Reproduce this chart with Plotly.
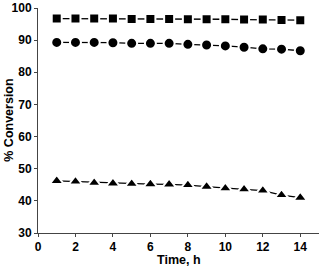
import plotly.graph_objects as go

time_h = [1, 2, 3, 4, 5, 6, 7, 8, 9, 10, 11, 12, 13, 14]
squares = [96.7, 96.7, 96.7, 96.7, 96.6, 96.6, 96.6, 96.5, 96.5, 96.5, 96.4, 96.4, 96.3, 96.2]
circles = [89.3, 89.3, 89.3, 89.2, 89.0, 89.0, 89.0, 88.7, 88.5, 88.2, 87.8, 87.3, 87.2, 86.7]
triangles = [46.2, 46.0, 45.6, 45.4, 45.3, 45.2, 45.1, 44.9, 44.4, 43.9, 43.6, 43.2, 41.8, 41.0]

x_ticks = [0, 2, 4, 6, 8, 10, 12, 14]
y_ticks = [30, 40, 50, 60, 70, 80, 90, 100]

FAM = "Liberation Sans, Arial, sans-serif"

fig = go.Figure()
for vals, sym, size in [(squares, "square", 10), (circles, "circle", 11), (triangles, "triangle-up", 12)]:
    fig.add_trace(go.Scatter(
        x=time_h, y=vals, mode="lines+markers",
        line=dict(color="black", width=1.3),
        marker=dict(symbol=sym, size=size, color="black", line=dict(color="white", width=2)),
        showlegend=False, cliponaxis=False,
    ))

fig.update_layout(
    width=321, height=266,
    margin=dict(l=38, r=2, t=8, b=33, autoexpand=False),
    paper_bgcolor="white", plot_bgcolor="white",
    font=dict(family=FAM, size=12, color="black"),
    annotations=[
        dict(text="<b>Time, h</b>", xref="paper", yref="paper", x=0.5, y=-0.121,
             xanchor="center", yanchor="middle", showarrow=False, borderpad=0,
             font=dict(family=FAM, size=12.5, color="black")),
        dict(text="<b>% Conversion</b>", xref="paper", yref="paper", x=-0.106, y=0.5,
             xanchor="center", yanchor="middle", showarrow=False, textangle=-90, borderpad=0,
             font=dict(family=FAM, size=12.5, color="black")),
    ],
)
tickfont = dict(family=FAM, size=12, color="black", weight="bold")
fig.update_xaxes(
    range=[0, 15], tickvals=x_ticks, ticks="outside", ticklen=3, tickwidth=1,
    tickcolor="#444", showline=True, linecolor="#444", linewidth=1,
    showgrid=False, zeroline=False, automargin=False, tickfont=tickfont,
)
fig.update_yaxes(
    range=[30, 100], tickvals=y_ticks, ticks="outside", ticklen=3, tickwidth=1,
    tickcolor="#444", showline=True, linecolor="#444", linewidth=1,
    showgrid=False, zeroline=False, automargin=False, tickfont=tickfont,
)
fig.write_html(
    "out.html",
    config={"displayModeBar": False, "staticPlot": True},
    post_script="document.body.style.margin='0';document.body.style.overflow='hidden';",
)
